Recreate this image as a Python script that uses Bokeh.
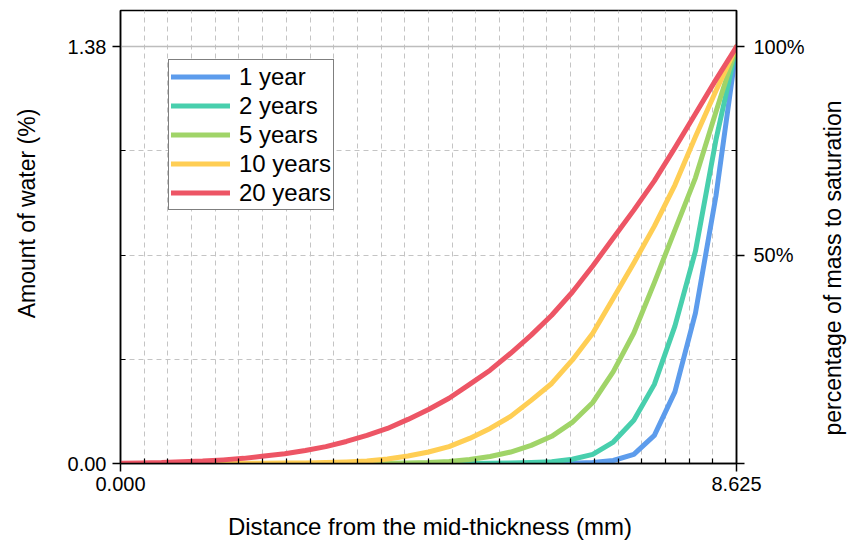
from bokeh.plotting import figure
from bokeh.layouts import row, column
from bokeh.models import (Range1d, LinearAxis, FixedTicker, Grid, Legend,
                          LegendItem, Label)
from bokeh.embed import file_html
from bokeh.resources import INLINE

# ---------------- data ----------------
distance_mm = [0.0, 0.2875, 0.575, 0.8625, 1.15, 1.4375, 1.725, 2.0125, 2.3,
               2.5875, 2.875, 3.1625, 3.45, 3.7375, 4.025, 4.3125, 4.6, 4.8875,
               5.175, 5.4625, 5.75, 6.0375, 6.325, 6.6125, 6.9, 7.1875, 7.475,
               7.7625, 8.05, 8.3375, 8.625]

water_1yr = [0.0, 0.0, 0.0, 0.0, 0.0, 0.0, 0.0, 0.0, 0.0, 0.0, 0.0, 0.0, 0.0,
             0.0, 0.0, 0.0, 0.0, 0.0, 0.0, 0.0, 0.0, 0.0, 0.001, 0.003, 0.010,
             0.030, 0.093, 0.237, 0.498, 0.886, 1.380]
water_2yr = [0.0, 0.0, 0.0, 0.0, 0.0, 0.0, 0.0, 0.0, 0.0, 0.0, 0.0, 0.0, 0.0,
             0.0, 0.0, 0.0, 0.0, 0.0003, 0.0007, 0.0015, 0.003, 0.006, 0.014,
             0.030, 0.071, 0.143, 0.262, 0.455, 0.703, 1.072, 1.380]
water_5yr = [0.0, 0.0, 0.0, 0.0, 0.0, 0.0, 0.0, 0.0, 0.0, 0.0, 0.0, 0.0002,
             0.0004, 0.0008, 0.0017, 0.003, 0.007, 0.013, 0.023, 0.038, 0.060,
             0.090, 0.136, 0.202, 0.304, 0.432, 0.599, 0.773, 0.946, 1.165,
             1.380]
water_10yr = [0.0, 0.0, 0.0, 0.0, 0.0002, 0.0004, 0.0007, 0.001, 0.0015, 0.002,
              0.003, 0.005, 0.008, 0.015, 0.025, 0.038, 0.056, 0.083, 0.116,
              0.156, 0.209, 0.265, 0.342, 0.431, 0.547, 0.664, 0.786, 0.922,
              1.082, 1.234, 1.380]
water_20yr = [0.001, 0.002, 0.003, 0.006, 0.008, 0.012, 0.017, 0.025, 0.032,
              0.043, 0.056, 0.073, 0.093, 0.116, 0.146, 0.179, 0.216, 0.262,
              0.309, 0.365, 0.425, 0.491, 0.567, 0.654, 0.747, 0.839, 0.936,
              1.045, 1.158, 1.271, 1.380]

series_labels = ["1 year", "2 years", "5 years", "10 years", "20 years"]
series_colors = ["#5D9CEC", "#48CFAD", "#A0D468", "#FFCE54", "#ED5565"]

x_ticks = [0.0, 8.625]
x_tick_labels = ["0.000", "8.625"]
y_ticks = [0.0, 1.38]
y_tick_labels = ["0.00", "1.38"]
pct_ticks = [0, 50, 100]
pct_tick_labels = ["", "50%", "100%"]

x_title = "Distance from the mid-thickness (mm)"
y_title = "Amount of water (%)"
y2_title = "percentage of mass to saturation"

FONT = "Liberation Sans"

# ---------------- main figure ----------------
X_MAX = 8.625
Y_MAX = 1.5
H_MAIN = 510
W_LEFT, W_RIGHT, H_BOTTOM = 50, 40, 30
W_MAIN = 847 - W_LEFT - W_RIGHT

p = figure(width=W_MAIN, height=H_MAIN, x_range=Range1d(0, X_MAX),
           y_range=Range1d(0, Y_MAX), output_backend="svg",
           toolbar_location=None, min_border_left=70, min_border_top=10,
           min_border_right=69, min_border_bottom=47)
p.extra_y_ranges = {"pct": Range1d(0, Y_MAX / 1.38 * 100)}
p.outline_line_color = "black"
p.outline_line_width = 1.5
p.xgrid.visible = False
p.ygrid.visible = False
p.background_fill_color = "white"

n_div = 26
minor_x = [X_MAX * i / n_div for i in range(1, n_div)]
minor_y = [1.38 * f for f in (0.25, 0.5, 0.75)]

grid_color = "#c4c4c4"
p.add_layout(Grid(dimension=0, ticker=FixedTicker(ticks=minor_x),
                  grid_line_color=grid_color, grid_line_dash="5 4",
                  grid_line_width=1))
p.add_layout(Grid(dimension=1, ticker=FixedTicker(ticks=minor_y),
                  grid_line_color=grid_color, grid_line_dash="5 4",
                  grid_line_width=1))
p.add_layout(Grid(dimension=1, ticker=FixedTicker(ticks=[1.38]),
                  grid_line_color="#bdbdbd", grid_line_width=1.5))


def style_axis(ax, standoff):
    ax.axis_line_width = 1.5
    ax.axis_line_color = "black"
    ax.major_tick_line_width = 1.5
    ax.minor_tick_line_width = 1.2
    ax.major_tick_out = 8
    ax.major_tick_in = 0
    ax.minor_tick_in = 5
    ax.minor_tick_out = 0
    ax.major_label_text_font = FONT
    ax.major_label_text_font_size = "20px"
    ax.major_label_text_color = "black"
    ax.major_label_standoff = standoff


xa = p.xaxis[0]
xa.ticker = FixedTicker(ticks=x_ticks, minor_ticks=minor_x)
xa.major_label_overrides = dict(zip(x_ticks, x_tick_labels))
style_axis(xa, 5)

ya = p.yaxis[0]
ya.ticker = FixedTicker(ticks=y_ticks, minor_ticks=minor_y)
ya.major_label_overrides = dict(zip(y_ticks, y_tick_labels))
style_axis(ya, 6)

ra = LinearAxis(y_range_name="pct",
                ticker=FixedTicker(ticks=pct_ticks, minor_ticks=[25, 75]))
ra.major_label_overrides = dict(zip(pct_ticks, pct_tick_labels))
style_axis(ra, 9)
p.add_layout(ra, "right")

# ---------------- lines ----------------
all_series = [water_1yr, water_2yr, water_5yr, water_10yr, water_20yr]
items = []
for vals, lab, col in zip(all_series, series_labels, series_colors):
    r = p.line(distance_mm, vals, line_color=col, line_width=5,
               line_join="round", line_cap="round")
    items.append(LegendItem(label=lab, renderers=[r]))

legend = Legend(items=items, location=(48, 253), padding=2, spacing=0,
                glyph_width=59, glyph_height=29, label_standoff=9,
                label_text_font=FONT, label_text_font_size="24px",
                label_text_color="black", border_line_color="black",
                border_line_width=1.2, background_fill_color="white",
                background_fill_alpha=1.0, margin=0)
p.add_layout(legend)


# ---------------- title strips ----------------
def strip(w, h):
    f = figure(width=w, height=h, x_range=Range1d(0, 1), y_range=Range1d(0, 1),
               output_backend="svg", toolbar_location=None, min_border=0,
               x_axis_location=None, y_axis_location=None)
    f.outline_line_color = None
    f.grid.visible = False
    f.background_fill_color = "white"
    f.border_fill_color = "white"
    return f


pl = strip(W_LEFT, H_MAIN)
pl.add_layout(Label(x=26, y=250, x_units="screen", y_units="screen",
                    text=y_title, angle=90, angle_units="deg",
                    text_align="center", text_baseline="middle",
                    text_font=FONT, text_font_size="23px", text_color="black"))

pr = strip(W_RIGHT, H_MAIN)
pr.add_layout(Label(x=25, y=195.5, x_units="screen", y_units="screen",
                    text=y2_title, angle=90, angle_units="deg",
                    text_align="center", text_baseline="middle",
                    text_font=FONT, text_font_size="23px", text_color="black"))

pb = strip(847, H_BOTTOM)
pb.add_layout(Label(x=429.5, y=14, x_units="screen", y_units="screen",
                    text=x_title, text_align="center",
                    text_baseline="alphabetic", text_font=FONT,
                    text_font_size="24px", text_color="black"))

layout = column(row(pl, p, pr, spacing=0), pb, spacing=0)

open("out.html", "w").write(file_html(layout, INLINE))
